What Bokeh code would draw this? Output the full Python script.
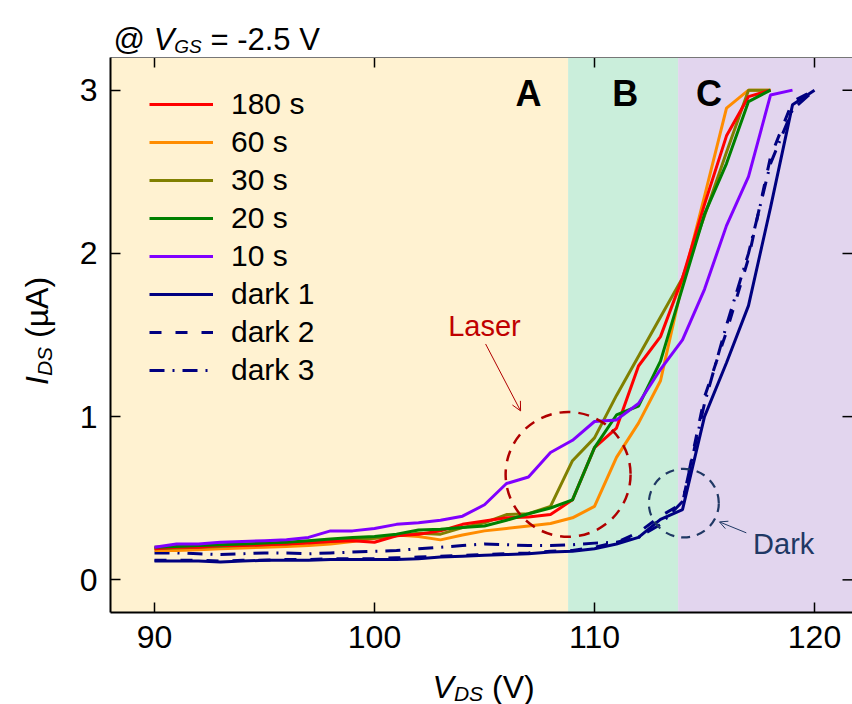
import math
from bokeh.plotting import figure
from bokeh.models import (Range1d, LinearAxis, FixedTicker, BoxAnnotation, Label,
                          Legend, LegendItem, Arrow, OpenHead, ColumnDataSource)
from bokeh.embed import file_html
from bokeh.resources import INLINE

FONT = "Liberation Sans"

# ---------------- data ----------------
V_light = list(range(90, 119))   # 90 .. 118 V
V_10s = list(range(90, 120))     # 90 .. 119 V
V_dark = list(range(90, 121))    # 90 .. 120 V

I_180s = [0.19, 0.20, 0.20, 0.21, 0.21, 0.215, 0.22, 0.225, 0.235, 0.24,
          0.23, 0.27, 0.28, 0.30, 0.34, 0.36, 0.38, 0.385, 0.40, 0.49,
          0.81, 0.93, 1.31, 1.49, 1.85, 2.30, 2.72, 2.96, 3.00]
I_60s = [0.18, 0.18, 0.185, 0.19, 0.195, 0.20, 0.205, 0.21, 0.22, 0.235,
         0.255, 0.275, 0.265, 0.245, 0.275, 0.30, 0.315, 0.33, 0.345, 0.38,
         0.45, 0.75, 0.96, 1.22, 1.82, 2.35, 2.89, 3.00, 3.00]
I_30s = [0.19, 0.195, 0.20, 0.205, 0.21, 0.215, 0.22, 0.23, 0.235, 0.245,
         0.255, 0.27, 0.285, 0.28, 0.32, 0.35, 0.40, 0.405, 0.45, 0.73,
         0.87, 1.13, 1.37, 1.61, 1.85, 2.23, 2.62, 3.00, 3.00]
I_20s = [0.20, 0.205, 0.21, 0.215, 0.22, 0.225, 0.23, 0.24, 0.25, 0.26,
         0.265, 0.28, 0.305, 0.31, 0.32, 0.33, 0.365, 0.405, 0.44, 0.49,
         0.81, 1.01, 1.065, 1.34, 1.79, 2.24, 2.55, 2.93, 3.00]
I_10s = [0.20, 0.22, 0.22, 0.23, 0.235, 0.24, 0.245, 0.26, 0.30, 0.30,
         0.315, 0.34, 0.35, 0.365, 0.39, 0.46, 0.59, 0.63, 0.78, 0.855,
         0.97, 0.98, 1.08, 1.29, 1.47, 1.78, 2.17, 2.47, 2.97, 3.00]
I_dark1 = [0.115, 0.115, 0.115, 0.11, 0.115, 0.12, 0.12, 0.12, 0.125, 0.125,
           0.125, 0.125, 0.13, 0.14, 0.145, 0.15, 0.155, 0.16, 0.17, 0.175,
           0.19, 0.22, 0.26, 0.37, 0.43, 1.00, 1.33, 1.68, 2.28, 2.91, 3.00]
I_dark2 = [0.12, 0.12, 0.12, 0.115, 0.12, 0.12, 0.125, 0.125, 0.13, 0.13,
           0.13, 0.135, 0.14, 0.145, 0.15, 0.155, 0.16, 0.165, 0.175, 0.18,
           0.20, 0.23, 0.29, 0.39, 0.47, 1.12, 1.52, 1.97, 2.59, 2.93, 3.00]
I_dark3 = [0.165, 0.165, 0.16, 0.155, 0.16, 0.165, 0.165, 0.16, 0.165, 0.17,
           0.175, 0.18, 0.19, 0.20, 0.21, 0.22, 0.215, 0.21, 0.21, 0.215,
           0.225, 0.23, 0.26, 0.34, 0.48, 1.08, 1.56, 2.00, 2.55, 2.88, 3.00]

series_labels = ["180 s", "60 s", "30 s", "20 s", "10 s", "dark 1", "dark 2", "dark 3"]
region_edges = [108.8, 113.8]
region_names = ["A", "B", "C"]
x_ticks = [90, 100, 110, 120]
y_ticks = [0, 1, 2, 3]

# visible axes box (data units)
X0, X1 = 88.0, 121.727
Y0, Y1 = -0.2, 3.2

# ---------------- styling ----------------
series = [
    ("180 s", V_light, I_180s, "#FF0000", "solid"),
    ("60 s", V_light, I_60s, "#FF8C00", "solid"),
    ("30 s", V_light, I_30s, "#808000", "solid"),
    ("20 s", V_light, I_20s, "#008000", "solid"),
    ("10 s", V_10s, I_10s, "#8000FF", "solid"),
    ("dark 1", V_dark, I_dark1, "#000080", "solid"),
    ("dark 2", V_dark, I_dark2, "#000080", "12 14"),
    ("dark 3", V_dark, I_dark3, "#000080", "15 8 2 8"),
]
region_colors = ["#FFF2D1", "#CAEEDB", "#E2D5EE"]

W_PX, H_PX = 852, 704
L_PX, T_PX, B_PX = 110, 57, 612          # pixel positions of the visible box
xs_per_px = 1 / 22.0
ys_per_px = (Y1 - Y0) / (B_PX - T_PX)
x_lo = X0 - L_PX * xs_per_px
x_hi = x_lo + W_PX * xs_per_px
y_hi = Y1 + T_PX * ys_per_px
y_lo = Y0 - (H_PX - B_PX) * ys_per_px

p = figure(width=W_PX, height=H_PX, output_backend="svg", toolbar_location=None,
           x_range=Range1d(x_lo, x_hi), y_range=Range1d(y_lo, y_hi),
           min_border=0, x_axis_location=None, y_axis_location=None)
p.xgrid.visible = False
p.ygrid.visible = False
p.outline_line_color = None
p.background_fill_color = "white"
p.border_fill_color = "white"

# background regions
bounds = [X0] + region_edges + [None]
for i, c in enumerate(region_colors):
    p.add_layout(BoxAnnotation(left=bounds[i], right=bounds[i + 1], bottom=Y0, top=Y1,
                               fill_color=c, fill_alpha=1.0, line_color=None,
                               level="underlay"))


def make_axis(ticks, loc, bnds):
    ax = LinearAxis(ticker=FixedTicker(ticks=ticks), fixed_location=loc, bounds=bnds)
    ax.major_tick_in = 10
    ax.major_tick_out = 0
    ax.minor_tick_in = 0
    ax.minor_tick_out = 0
    ax.major_tick_line_color = "black"
    ax.major_tick_line_width = 1.5
    ax.axis_line_color = "black"
    ax.axis_line_width = 2
    ax.major_label_text_font = FONT
    ax.major_label_text_font_size = "32px"
    ax.major_label_text_color = "black"
    ax.major_label_standoff = 13
    return ax


p.add_layout(make_axis(x_ticks, Y0, (X0, X1)), "below")
p.add_layout(make_axis(y_ticks, X0, (Y0, Y1)), "left")

# mirrored ticks on top and right edges, and top frame line
tick_len_y = 10 * ys_per_px
tick_len_x = 10 * xs_per_px
p.segment(x0=x_ticks, x1=x_ticks, y0=[Y1] * len(x_ticks),
          y1=[Y1 - tick_len_y] * len(x_ticks), line_color="black", line_width=1.5)
p.segment(x0=[X1] * len(y_ticks), x1=[X1 - tick_len_x] * len(y_ticks),
          y0=y_ticks, y1=y_ticks, line_color="black", line_width=1.5)
p.segment(x0=[X0], x1=[X1], y0=[Y1], y1=[Y1], line_color="#777777", line_width=1)

# curves (dark first so light curves lie on top)
renderers = {}
draw_order = ["dark 3", "dark 2", "dark 1", "60 s", "30 s", "180 s", "20 s", "10 s"]
lookup = {s[0]: s for s in series}
for name in draw_order:
    _, xs, ys, col, dash = lookup[name]
    src = ColumnDataSource(dict(x=xs, y=ys))
    renderers[name] = p.line("x", "y", source=src, line_color=col, line_width=3,
                             line_dash=dash)

legend = Legend(items=[LegendItem(label=n, renderers=[renderers[n]]) for n in series_labels],
                location=(149, 315), margin=0, padding=10, spacing=0,
                glyph_width=64, glyph_height=20, label_height=38,
                label_standoff=18, label_text_font=FONT, label_text_font_size="30px",
                label_text_color="black", border_line_color=None,
                background_fill_alpha=0.0)
p.add_layout(legend)

# region letters
letter_x = [107.0, 111.4, 115.2]
for name, lx in zip(region_names, letter_x):
    p.add_layout(Label(x=lx, y=2.98, text=name, text_font=FONT, text_font_size="36px",
                       text_font_style="bold", text_align="center",
                       text_baseline="middle", text_color="black"))

# highlight circles
laser_c = "#B00000"
dark_c = "#1F3864"
p.ellipse(x=[108.8], y=[0.646], width=5.68, height=0.765, fill_color=None,
          line_color=laser_c, line_width=2.5, line_dash="11 8")
p.ellipse(x=[114.06], y=[0.47], width=3.18, height=0.42, fill_color=None,
          line_color=dark_c, line_width=2.2, line_dash="9 7")

p.add_layout(Label(x=105.0, y=1.555, text="Laser", text_font=FONT, text_font_size="29px",
                   text_align="center", text_baseline="middle", text_color="#C00000"))
p.add_layout(Arrow(x_start=105.05, y_start=1.445, x_end=106.64, y_end=1.035,
                   line_color=laser_c, line_width=1,
                   end=OpenHead(size=9, line_color=laser_c, line_width=1)))
p.add_layout(Label(x=118.6, y=0.22, text="Dark", text_font=FONT, text_font_size="29px",
                   text_align="center", text_baseline="middle", text_color=dark_c))
p.add_layout(Arrow(x_start=116.9, y_start=0.288, x_end=115.68, y_end=0.355,
                   line_color=dark_c, line_width=1,
                   end=OpenHead(size=8, line_color=dark_c, line_width=1)))

# rich text labels (main text + subscript)
W = {'@': 1.015, ' ': 0.278, 'V': 0.667, 'G': 0.778, 'S': 0.667, '=': 0.584, '-': 0.333,
     '2': 0.556, '.': 0.278, '5': 0.556, 'D': 0.722, '(': 0.333, ')': 0.333,
     'µ': 0.576, 'A': 0.667, 'I': 0.278}


def tw(s, size):
    return sum(W.get(ch, 0.556) for ch in s) * size


def rich(x, y, parts, rotated=False):
    off = 0.0
    for text, size, style, shift in parts:
        lead = len(text) - len(text.lstrip(" "))
        off += lead * W[' '] * size          # leading blanks become an offset
        body = text.strip(" ")
        if rotated:
            lab = Label(x=x, y=y, x_offset=shift, y_offset=off, angle=math.pi / 2,
                        text=body, text_font=FONT, text_font_size=f"{size}px",
                        text_font_style=style, text_align="left",
                        text_baseline="alphabetic", text_color="black")
        else:
            lab = Label(x=x, y=y, x_offset=off, y_offset=-shift, text=body,
                        text_font=FONT, text_font_size=f"{size}px",
                        text_font_style=style, text_align="left",
                        text_baseline="alphabetic", text_color="black")
        p.add_layout(lab)
        off += tw(text.lstrip(" "), size)


rich(88.14, 3.313, [("@", 31, "normal", 0), (" V", 31, "italic", 0),
                    ("GS", 19, "italic", 7), (" = -2.5 V", 31, "normal", 0)])
rich(102.64, -0.655, [("V", 32, "italic", 0), ("DS", 21, "italic", 7),
                      (" (V)", 32, "normal", 0)])
rich(84.68, 1.194, [("I", 32, "italic", 0), ("DS", 21, "italic", 7),
                    (" (µA)", 32, "normal", 0)], rotated=True)

open("out.html", "w").write(file_html(p, INLINE))
